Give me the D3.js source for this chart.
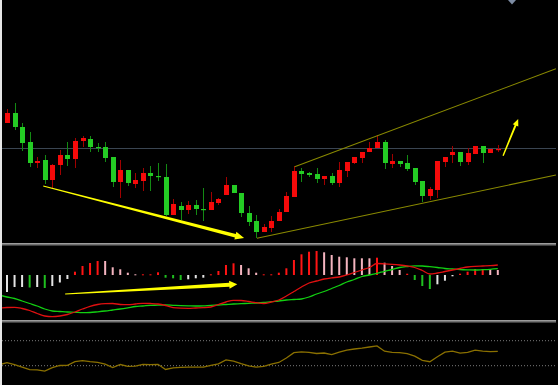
<!DOCTYPE html>
<html>
<head>
<meta charset="utf-8">
<title>K-line + MACD</title>
<style>
  html, body { margin: 0; padding: 0; background: #000; overflow: hidden; }
  svg { display: block; }
</style>
</head>
<body>
<script src="https://d3js.org/d3.v7.min.js"></script>
<script>
  var width = 558;
  var height = 385;

  // candles 1..66 (red = up, green = down)
  var open = [
    127,137,123,108,87,90,70,85,95,91,
    109,111,103,103,93,68,80,66,69,77,
    74,73,35,44,40,45,41,40,47,55,
    65,57,37,29,18,22,29,38,53,79,
    77,76,71,74,67,79,87,92,98,102,
    108,86,89,87,82,69,54,60,88,95,
    98,88,96,104,97,100];
  var close = [
    137,123,107,87,89,70,85,95,91,109,
    112,103,102,92,68,80,67,70,77,74,
    73,35,46,40,45,41,40,48,51,65,
    57,37,28,18,23,29,38,54,79,76,
    75,71,74,67,80,88,93,98,102,108,
    87,89,86,81,68,54,61,89,93,98,
    88,97,104,97,101,101];
  var high = [
    141,147,127,118,93,95,86,100,108,112,
    114,114,107,108,93,90,80,77,82,84,
    87,86,51,48,49,50,62,58,52,73,
    65,57,44,35,26,34,41,58,84,82,
    78,82,74,77,88,88,93,98,108,115,
    110,96,89,95,82,69,63,89,93,104,
    98,102,104,104,101,105];
  var low = [
    127,120,99,83,82,66,62,75,84,82,
    103,98,98,88,63,52,64,62,59,59,
    69,34,35,30,36,35,29,40,45,55,
    57,33,24,12,18,18,29,38,53,68,
    73,67,65,65,63,73,86,87,98,102,
    81,82,83,79,65,48,50,52,83,87,
    84,85,96,87,97,98];
  var priceLine = 102;

  // MACD lines, index 0..66
  var dif = [
    -33,-32.5,-32.3,-33.5,-35.5,-38.5,-41,-41.7,-41,-39.5,
    -37,-34,-31.3,-29.5,-28.7,-28.5,-29.5,-29.7,-29,-28.3,
    -28.5,-29,-30.5,-32.7,-33.2,-33.3,-33,-32.7,-32,-29.5,
    -27,-25.3,-25.5,-26.5,-27.7,-28.5,-27,-25,-21,-16.5,
    -12,-8,-6,-4,-2.8,-2,0,2.5,5,7.5,
    11.5,11.2,10.7,10,9,7.5,4.5,1,2,3.5,
    5,6.5,8,8.7,9,9.3,10];
  var dea = [
    -20,-22,-23.5,-26,-28.5,-31,-34,-36,-36.5,-37,
    -37.3,-37.7,-37.5,-36.8,-36,-35,-34,-32.8,-31.5,-31,
    -30.3,-30.2,-30,-30.3,-30.6,-30.8,-31,-30.8,-30.3,-30,
    -29.5,-29,-28.7,-28.3,-28,-27.5,-26.6,-26,-25,-24.5,
    -24,-22,-19,-16.5,-13.5,-10.5,-7,-4.5,-1.5,0,
    1.7,3.7,5.5,7.5,8.5,9.2,9,8.3,7.5,6.5,
    6,5.5,5.2,5,5.3,5.7,6.3];
  // MACD histogram 1..66 and its colour codes
  var hist = [
    -17,-12,-12,-12.5,-12,-13,-11,-7.5,-4,3.3,
    9,12,14,14,7.7,5.7,2.3,0.7,0.7,0.7,
    2.7,-2.7,-3.3,-5,-4.3,-3.3,-2.7,0.7,4,10,
    11.7,10,6.7,2.3,0.7,0.7,2.3,6.7,15,20.7,
    23.3,24,22.7,20,18.3,17.7,16.7,16.7,16.7,17.3,
    12.3,9,5,1.3,-5,-11,-14,-9.3,-5.7,-1.3,
    1.3,3.3,6,6,6,5];
  var histKind = "wwwgwgwwwrrrrppppprrrgggwwwrrrrppprrrrrrrrppppppprpppr" + "gggwwwrrrrpp";

  // lower oscillator, index 0..66
  var osc = [
    26,28,26,23.5,21,20.8,19.5,23,25.2,25.4,
    29,30,29,28.3,26.5,23.2,26.2,24.4,24.6,26.4,
    26,26.4,21.2,22.8,23.4,23.6,23.6,23.6,25.4,26.8,
    30.8,29.5,27,24.8,23.6,24.3,26.5,28.2,32.7,38,
    38.8,38.4,37.2,37.7,36,38.5,40.5,41.7,42.6,43.7,
    44.8,39.5,38.4,38,37,34.6,30.4,29,34,38.6,
    39.5,37.5,38.4,40.6,39.6,39,39.3];
  var oscLevels = [50, 25];

  // drawn objects: [candle index, value]
  var trendDown = [[5.8, 64], [32.4, 12]];
  var channelTop = [[39.1, 83.3], [73.7, 181.2]];
  var channelBottom = [[34.1, 11.7], [73.7, 75]];
  var arrowUp = [[66.7, 94.3], [68.7, 131]];
  var macdArrow = [[8.7, -19], [31.5, -9.3]];

  var histColors = { w: "#e4e4e4", p: "#f4b4bf", r: "#ff1414", g: "#1fbf1f" };

  var x = d3.scaleLinear().domain([1, 66]).range([7, 497.8]);
  var yP = d3.scaleLinear().domain([7, 250]).range([243, 0]);
  var yM = d3.scaleLinear().domain([-45, 30]).range([320, 245]);
  var yO = d3.scaleLinear().domain([0, 100]).range([390.7, 290.7]);

  var svg = d3.select("body").append("svg")
    .attr("width", width).attr("height", height);
  svg.append("rect").attr("width", width).attr("height", height).attr("fill", "#000");

  var defs = svg.append("defs");
  defs.append("clipPath").attr("id", "cMain").append("rect")
    .attr("x", 2).attr("y", 0).attr("width", 554).attr("height", 243);
  defs.append("clipPath").attr("id", "cMacd").append("rect")
    .attr("x", 2).attr("y", 246).attr("width", 554).attr("height", 74);
  defs.append("clipPath").attr("id", "cOsc").append("rect")
    .attr("x", 2).attr("y", 323).attr("width", 554).attr("height", 60);

  // ---- main panel
  var main = svg.append("g").attr("clip-path", "url(#cMain)");

  main.append("line")
    .attr("x1", 2).attr("x2", 556)
    .attr("y1", Math.round(yP(priceLine)) + 0.5).attr("y2", Math.round(yP(priceLine)) + 0.5)
    .attr("stroke", "#3a4552").attr("stroke-width", 1);

  var candles = d3.range(open.length).map(function(i) {
    return { i: i + 1, o: open[i], c: close[i], h: high[i], l: low[i] };
  });

  var cg = main.selectAll(".candle").data(candles).enter().append("g").attr("class", "candle");
  cg.append("line")
    .attr("x1", function(d) { return Math.round(x(d.i)) + 0.5; })
    .attr("x2", function(d) { return Math.round(x(d.i)) + 0.5; })
    .attr("y1", function(d) { return yP(d.h); })
    .attr("y2", function(d) { return yP(d.l); })
    .attr("stroke", function(d) { return d.c >= d.o ? "#a00000" : "#138a13"; })
    .attr("stroke-width", 1);
  cg.append("rect")
    .attr("x", function(d) { return Math.round(x(d.i)) - 2; })
    .attr("width", 5)
    .attr("y", function(d) { return yP(Math.max(d.o, d.c)); })
    .attr("height", function(d) { return Math.max(1.2, Math.abs(yP(d.o) - yP(d.c))); })
    .attr("fill", function(d) { return d.c >= d.o ? "#f50a0a" : "#24cc24"; });

  function seg(pts, sy) {
    return pts.map(function(p) { return [x(p[0]), sy(p[1])]; });
  }

  function arrowPath(p0, p1, w0, w1, hl, hw) {
    var dx = p1[0] - p0[0], dy = p1[1] - p0[1];
    var len = Math.sqrt(dx * dx + dy * dy);
    var ux = dx / len, uy = dy / len, nx = -uy, ny = ux;
    var bx = p1[0] - ux * hl, by = p1[1] - uy * hl;
    var pts = [
      [p0[0] + nx * w0 / 2, p0[1] + ny * w0 / 2],
      [bx + nx * w1 / 2, by + ny * w1 / 2],
      [bx + nx * hw / 2, by + ny * hw / 2],
      [p1[0], p1[1]],
      [bx - nx * hw / 2, by - ny * hw / 2],
      [bx - nx * w1 / 2, by - ny * w1 / 2],
      [p0[0] - nx * w0 / 2, p0[1] - ny * w0 / 2]
    ];
    return "M" + pts.map(function(p) { return p[0].toFixed(2) + "," + p[1].toFixed(2); }).join("L") + "Z";
  }

  var lineGen = d3.line();
  [channelTop, channelBottom].forEach(function(c) {
    main.append("path").attr("d", lineGen(seg(c, yP)))
      .attr("fill", "none").attr("stroke", "#8a8a00").attr("stroke-width", 1.1);
  });

  var td = seg(trendDown, yP);
  main.append("path").attr("d", arrowPath(td[0], td[1], 1, 3.6, 9, 8)).attr("fill", "#ffff00");
  var au = seg(arrowUp, yP);
  main.append("path").attr("d", arrowPath(au[0], au[1], 1.4, 2, 7, 6)).attr("fill", "#ffff00");

  // small marker on top edge
  svg.append("path").attr("d", "M508,0L516,0L512,4.5Z").attr("fill", "#7d8ca3");

  // ---- MACD panel
  var macd = svg.append("g").attr("clip-path", "url(#cMacd)");
  var bars = hist.map(function(v, i) { return { i: i + 1, v: v, k: histKind[i] }; });
  macd.selectAll(".bar").data(bars).enter().append("rect")
    .attr("class", "bar")
    .attr("x", function(d) { return x(d.i) - 1; })
    .attr("width", 2)
    .attr("y", function(d) { return Math.min(yM(0), yM(d.v)); })
    .attr("height", function(d) { return Math.max(1, Math.abs(yM(d.v) - yM(0))); })
    .attr("fill", function(d) { return histColors[d.k]; });

  var idxLine = d3.line()
    .x(function(d, i) { return x(i); })
    .curve(d3.curveMonotoneX);
  macd.append("path")
    .attr("d", idxLine.y(function(d) { return yM(d); })(dea))
    .attr("fill", "none").attr("stroke", "#12d012").attr("stroke-width", 1.3);
  macd.append("path")
    .attr("d", idxLine.y(function(d) { return yM(d); })(dif))
    .attr("fill", "none").attr("stroke", "#e01010").attr("stroke-width", 1.3);

  var ma = seg(macdArrow, yM);
  macd.append("path").attr("d", arrowPath(ma[0], ma[1], 1, 4, 8, 8)).attr("fill", "#ffff00");

  // ---- oscillator panel
  var oscG = svg.append("g").attr("clip-path", "url(#cOsc)");
  oscLevels.forEach(function(l) {
    oscG.append("line")
      .attr("x1", 2).attr("x2", 556)
      .attr("y1", yO(l)).attr("y2", yO(l))
      .attr("stroke", "#7a7a7a").attr("stroke-width", 1)
      .attr("stroke-dasharray", "1,2");
  });
  oscG.append("path")
    .attr("d", d3.line().x(function(d, i) { return x(i); }).y(function(d) { return yO(d); })(osc))
    .attr("fill", "none").attr("stroke", "#8a7000").attr("stroke-width", 1.3);

  // ---- separators and frame
  [243, 320].forEach(function(yy) {
    svg.append("rect").attr("x", 0).attr("y", yy).attr("width", 556).attr("height", 2.4).attr("fill", "#9c9c9c");
    svg.append("rect").attr("x", 0).attr("y", yy + 1).attr("width", 556).attr("height", 0.6).attr("fill", "#555");
  });
  svg.append("rect").attr("x", 0).attr("y", 0).attr("width", 2).attr("height", height).attr("fill", "#e6e6e6");
</script>
</body>
</html>
